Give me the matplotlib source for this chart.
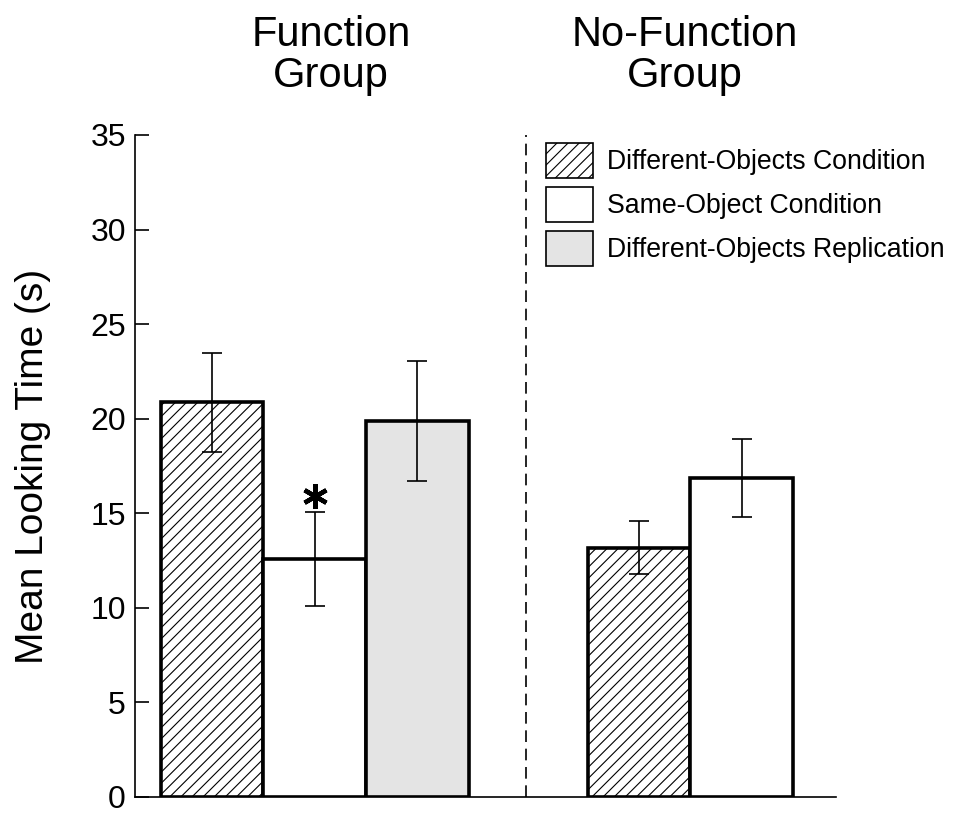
import matplotlib
matplotlib.use("Agg")
import matplotlib.pyplot as plt
from matplotlib.patches import Patch

plt.rcParams['font.family'] = ['Liberation Sans', 'DejaVu Sans']
plt.rcParams['hatch.linewidth'] = 0.8

# Bar data (seconds)
conditions = ['Different-Objects Condition', 'Same-Object Condition', 'Different-Objects Replication']
function_means = [20.9, 12.6, 19.9]
function_err_low = [18.25, 10.1, 16.7]
function_err_high = [23.45, 15.05, 23.05]
nofunction_means = [13.15, 16.85]
nofunction_err_low = [11.8, 14.8]
nofunction_err_high = [14.6, 18.95]
group_titles = ['Function\nGroup', 'No-Function\nGroup']
yticks = [0, 5, 10, 15, 20, 25, 30, 35]
star_value = 15.9  # asterisk above same-object bar

fills = ['white', 'white', '#e4e4e4']
hatches = ['///', '', '']

fig = plt.figure(figsize=(9.69, 8.13), dpi=100)
ax = fig.add_axes([0.1393, 0.0197, 0.7234, 0.8143])

# positions in bar widths
func_x = [0, 1, 2]
nofunc_x = [4.16, 5.16]
divider_x = 3.06
title_x = [1.16, 4.61]

for i in range(3):
    m = function_means[i]
    ax.bar(func_x[i], m, width=1.0, color=fills[i], hatch=hatches[i],
           edgecolor='black', linewidth=2.6, zorder=2)
    ax.errorbar(func_x[i], m,
                yerr=[[m - function_err_low[i]], [function_err_high[i] - m]],
                fmt='none', ecolor='black', elinewidth=1.2, capsize=7.5,
                capthick=1.2, zorder=3)

for i in range(2):
    m = nofunction_means[i]
    ax.bar(nofunc_x[i], m, width=1.0, color=fills[i], hatch=hatches[i],
           edgecolor='black', linewidth=2.6, zorder=2)
    ax.errorbar(nofunc_x[i], m,
                yerr=[[m - nofunction_err_low[i]], [nofunction_err_high[i] - m]],
                fmt='none', ecolor='black', elinewidth=1.2, capsize=7.5,
                capthick=1.2, zorder=3)

ax.plot(func_x[1], star_value, marker=(6, 2, 0), markersize=18,
        markeredgewidth=3.2, color='black', zorder=4)

ax.axvline(divider_x, color='black', linestyle=(0, (7, 4)), linewidth=1.2)

ax.set_xlim(-0.75, 6.08)
ax.set_ylim(0, 35)
ax.set_yticks(yticks)
ax.set_xticks([])
ax.tick_params(axis='y', direction='in', length=10, width=1.2,
               labelsize=23, pad=6.5)
ax.spines['top'].set_visible(False)
ax.spines['right'].set_visible(False)
ax.spines['left'].set_linewidth(1.2)
ax.spines['bottom'].set_linewidth(1.2)
ax.set_ylabel('Mean Looking Time (s)', fontsize=28, labelpad=28)

# group titles over each group
tr = ax.get_xaxis_transform()
for x, title in zip(title_x, group_titles):
    ax.text(x, 1.059, title, transform=tr, fontsize=30, ha='center',
            va='bottom', linespacing=1.03)

handles = [Patch(facecolor=fills[i], hatch=hatches[i], edgecolor='black',
                 linewidth=1.2) for i in range(3)]
ax.legend(handles, conditions, loc='upper left',
          bbox_to_anchor=(546 / 969, 1 - 143 / 813),
          bbox_transform=fig.transFigure, frameon=False, fontsize=19.2,
          handlelength=1.76, handleheight=1.64, handletextpad=0.52,
          labelspacing=0.34, borderpad=0, borderaxespad=0)

fig.savefig('out.png', dpi=100)
